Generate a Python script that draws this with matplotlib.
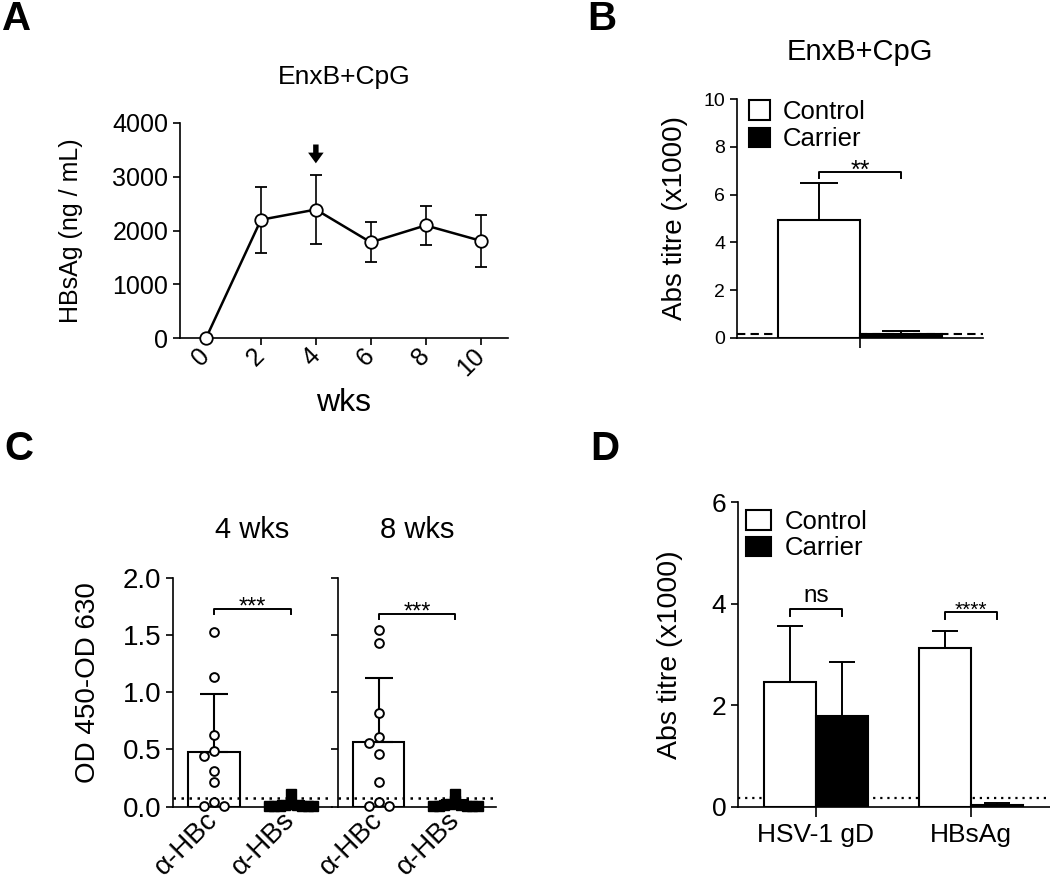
import numpy as np
import matplotlib
matplotlib.use('Agg')
import matplotlib.pyplot as plt
from matplotlib.patches import Patch

plt.rcParams['font.family'] = ['Liberation Sans', 'DejaVu Sans']
plt.rcParams['axes.linewidth'] = 1.2
plt.rcParams['xtick.major.width'] = 1.2
plt.rcParams['ytick.major.width'] = 1.2
plt.rcParams['xtick.major.size'] = 5
plt.rcParams['ytick.major.size'] = 5

# ---------------- data ----------------
# Panel A
weeks = [0, 2, 4, 6, 8, 10]
hbsag_mean = [0, 2200, 2390, 1780, 2095, 1810]
hbsag_sd = [0, 610, 635, 370, 370, 480]
arrow_week = 4

# Panel B
b_groups = ['Control', 'Carrier']
b_mean = [4.95, 0.15]
b_sd = [1.52, 0.14]
b_cutoff = 0.18

# Panel C
c_titles = ['4 wks', '8 wks']
c_cats = ['\u03b1-HBc', '\u03b1-HBs']
hbc_4 = [1.53, 1.13, 0.63, 0.49, 0.44, 0.31, 0.22, 0.04, 0.01, 0.01]
hbs_4 = [0.11, 0.02, 0.015, 0.012, 0.01, 0.01, 0.008, 0.006, 0.005, 0.004]
hbc_8 = [1.54, 1.43, 0.82, 0.605, 0.56, 0.457, 0.218, 0.044, 0.01, 0.01]
hbs_8 = [0.11, 0.05, 0.02, 0.015, 0.012, 0.01, 0.01, 0.008, 0.006, 0.005]
c_cutoff = 0.08

# Panel D
d_groups = ['HSV-1 gD', 'HBsAg']
d_control_mean = [2.45, 3.12]
d_control_sd = [1.11, 0.35]
d_carrier_mean = [1.78, 0.03]
d_carrier_sd = [1.08, 0.035]
d_cutoff = 0.18
d_sig = ['ns', '****']

W, H = 1050, 882
fig = plt.figure(figsize=(W / 100, H / 100), dpi=100)


def axes_px(left, right, top, bottom):
    return fig.add_axes([left / W, 1 - bottom / H, (right - left) / W, (bottom - top) / H])


def style(ax):
    for s in ['top', 'right']:
        ax.spines[s].set_visible(False)
    ax.tick_params(direction='out', colors='black')


def bracket(ax, x1, x2, y, h, text, fs, ty):
    ax.plot([x1, x1, x2, x2], [y - h, y, y, y - h], color='black', lw=1.4, clip_on=False, zorder=5)
    ax.text((x1 + x2) / 2, ty, text, ha='center', va='baseline', fontsize=fs, clip_on=False)


def swarm(ax, x0, values, diam_px):
    """simple beeswarm layout computed in display space"""
    placed = []
    xs = []
    for v in values:
        px0, py = ax.transData.transform((x0, v))
        k = 0
        while True:
            cand = [0] if k == 0 else [-k, k]
            done = False
            for c in cand:
                px = px0 + c * diam_px
                if all((px - qx) ** 2 + (py - qy) ** 2 >= (diam_px * 0.98) ** 2 for qx, qy in placed):
                    placed.append((px, py))
                    xs.append(ax.transData.inverted().transform((px, py))[0])
                    done = True
                    break
            if done:
                break
            k += 1
    return xs


# ---------------- Panel A ----------------
axA = axes_px(180, 508, 123, 338)
style(axA)
axA.errorbar(weeks, hbsag_mean, yerr=hbsag_sd, color='black', lw=1.8, marker='o', ms=9,
             mfc='white', mec='black', mew=1.3, elinewidth=1.2, capsize=4.5, capthick=1.2,
             clip_on=False, zorder=3)
axA.set_xlim(-0.95, 11)
axA.set_ylim(0, 4000)
axA.set_yticks([0, 1000, 2000, 3000, 4000])
axA.set_xticks(weeks)
axA.set_xticklabels([str(w) for w in weeks], rotation=45, ha='right', va='center',
                    rotation_mode='anchor', fontsize=18)
axA.tick_params(axis='x', pad=5)
axA.tick_params(axis='y', labelsize=18)
axA.set_ylabel('HBsAg (ng / mL)', fontsize=18)
axA.yaxis.set_label_coords(-0.295, 0.5)
axA.set_xlabel('wks', fontsize=23, va='center')
axA.xaxis.set_label_coords(0.5, -(403 - 338) / 215)
axA.set_title('EnxB+CpG', fontsize=19, y=1 + (123 - 77) / 215, va='center', pad=0)
axA.annotate('', xy=(arrow_week, 3250), xytext=(arrow_week, 3600),
             arrowprops=dict(arrowstyle='simple,head_length=0.55,head_width=0.8,tail_width=0.28',
                             lw=0, fc='black', ec='black', shrinkA=0, shrinkB=0,
                             mutation_scale=14))

# ---------------- Panel B ----------------
axB = axes_px(737, 983, 99, 338)
style(axB)
bx = [-0.5, 0.5]
axB.axhline(b_cutoff, color='black', lw=1.5, ls=(0, (4, 2.5)), zorder=1)
axB.bar(bx, b_mean, width=1.0, color=['white', 'black'], edgecolor='black', lw=1.5, zorder=2)
axB.errorbar(bx, b_mean, yerr=[[0, 0], b_sd], fmt='none', ecolor='black', elinewidth=1.4,
             capsize=14, capthick=1.4, zorder=3)
axB.set_xlim(-1.5, 1.5)
axB.set_ylim(0, 10)
axB.set_yticks([0, 2, 4, 6, 8, 10])
axB.set_xticks([0])
axB.set_xticklabels([''])
axB.tick_params(axis='x', length=7)
axB.tick_params(axis='y', labelsize=14)
axB.set_ylabel('Abs titre (x1000)', fontsize=20)
axB.yaxis.set_label_coords(-0.2, 0.5)
axB.set_title('EnxB+CpG', fontsize=21, y=1 + (99 - 52) / 239, va='center', pad=0)
bracket(axB, -0.5, 0.5, 6.96, 0.26, '**', 18, 6.68)
handlesB = [Patch(facecolor='white', edgecolor='black', lw=1.5),
            Patch(facecolor='black', edgecolor='black', lw=1.5)]
axB.legend(handlesB, b_groups, loc='upper left', bbox_to_anchor=(0.05, 0.995), frameon=False,
           fontsize=18.5, handlelength=0.8, handleheight=0.8, handletextpad=0.5,
           labelspacing=0.12, borderpad=0, borderaxespad=0)

# ---------------- Panel C ----------------
axC1 = axes_px(173, 332, 577.7, 806.7)
axC2 = axes_px(338, 496, 577.7, 806.7)
c_sets = [(hbc_4, hbs_4), (hbc_8, hbs_8)]
c_brackets = [(1.73, 1.69), (1.68, 1.64)]
for i, ax in enumerate([axC1, axC2]):
    style(ax)
    ax.set_xlim(-0.53, 1.53)
    ax.set_ylim(0, 2.0)
    hbc, hbs = c_sets[i]
    means = [np.mean(hbc), np.mean(hbs)]
    sds = [np.std(hbc, ddof=1), np.std(hbs, ddof=1)]
    ax.bar([0, 1], means, width=0.67, color='white', edgecolor='black', lw=1.5, zorder=1)
    ax.errorbar([0, 1], means, yerr=[[0, 0], sds], fmt='none', ecolor='black',
                elinewidth=1.5, capsize=10, capthick=1.5, zorder=2)
    ax.axhline(c_cutoff, color='black', lw=1.8, ls=(0, (1, 2.2)), zorder=3)
    xs_c = swarm(ax, 0, hbc, 10)
    ax.plot(xs_c, hbc, 'o', ms=6.3, mfc='white', mec='black', mew=1.4, ls='none',
            clip_on=False, zorder=4)
    xs_s = swarm(ax, 1, hbs, 5.6)
    ax.plot(xs_s, hbs, 's', ms=6.5, mfc='black', mec='black', ls='none',
            clip_on=False, zorder=4)
    ax.set_xticks([0, 1])
    ax.set_xticklabels(c_cats, rotation=45, ha='right', va='center', rotation_mode='anchor',
                       fontsize=20)
    ax.tick_params(axis='x', length=0, pad=7)
    ax.set_yticks([0, 0.5, 1.0, 1.5, 2.0])
    ax.tick_params(axis='y', labelsize=20)
    ax.text(0.5, 1 + (577.7 - 530) / 229, c_titles[i], transform=ax.transAxes,
            ha='center', va='center', fontsize=21)
    by, ty = c_brackets[i]
    bracket(ax, 0, 1, by, 0.045, '***', 17, ty)
axC1.set_yticklabels(['0.0', '0.5', '1.0', '1.5', '2.0'])
axC2.set_yticklabels([])
axC1.set_ylabel('OD 450-OD 630', fontsize=20)
axC1.yaxis.set_label_coords(-0.455, 0.54)

# ---------------- Panel D ----------------
axD = axes_px(738, 1050, 502.3, 806.7)
style(axD)
bw = 0.335
gx = np.arange(len(d_groups))
axD.axhline(d_cutoff, color='black', lw=1.6, ls=(0, (1, 2.2)), zorder=1)
axD.bar(gx - bw / 2, d_control_mean, width=bw, color='white', edgecolor='black', lw=1.5,
        zorder=2, label='Control')
axD.bar(gx + bw / 2, d_carrier_mean, width=bw, color='black', edgecolor='black', lw=1.5,
        zorder=2, label='Carrier')
axD.errorbar(gx - bw / 2, d_control_mean, yerr=[[0, 0], d_control_sd], fmt='none',
             ecolor='black', elinewidth=1.4, capsize=9.5, capthick=1.4, zorder=3)
axD.errorbar(gx + bw / 2, d_carrier_mean, yerr=[[0, 0], d_carrier_sd], fmt='none',
             ecolor='black', elinewidth=1.4, capsize=9.5, capthick=1.4, zorder=3)
axD.set_xlim(-0.503, 1.51)
axD.set_ylim(0, 6)
axD.set_yticks([0, 2, 4, 6])
axD.set_xticks(gx)
axD.set_xticklabels(d_groups, fontsize=19)
axD.tick_params(axis='x', length=7, pad=5)
axD.tick_params(axis='y', labelsize=19)
axD.set_ylabel('Abs titre (x1000)', fontsize=20.5)
axD.yaxis.set_label_coords(-0.175, 0.5)
bracket(axD, -bw / 2, bw / 2, 3.89, 0.14, d_sig[0], 17.5, 4.04)
bracket(axD, 1 - bw / 2, 1 + bw / 2, 3.83, 0.14, d_sig[1], 15, 3.76)
handlesD = [Patch(facecolor='white', edgecolor='black', lw=1.5),
            Patch(facecolor='black', edgecolor='black', lw=1.5)]
axD.legend(handlesD, ['Control', 'Carrier'], loc='upper left', bbox_to_anchor=(0.025, 0.975),
           frameon=False, fontsize=18.5, handlelength=1.0, handleheight=0.8, handletextpad=0.5,
           labelspacing=0.1, borderpad=0, borderaxespad=0)

# panel letters
for lbl, x, y in [('A', 2, 0), ('B', 587, 0), ('C', 4, 430), ('D', 590, 430)]:
    fig.text(x / W, 1 - y / H, lbl, fontsize=29, fontweight='bold', ha='left', va='top')

fig.savefig('out.png', dpi=100)
